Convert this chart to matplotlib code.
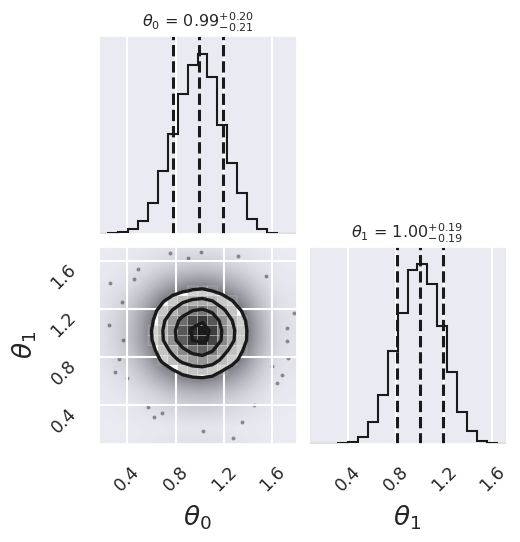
import numpy as np
import matplotlib
matplotlib.use("Agg")
import matplotlib.pyplot as plt
import seaborn as sns
from matplotlib.colors import LinearSegmentedColormap, PowerNorm

# ---------------- data ----------------
param_labels = [r"$\theta_0$", r"$\theta_1$"]
theta0_range = (0.16, 1.80)
theta1_range = (0.073, 1.72)
n_bins = 20
theta0_counts = [1, 6, 15, 45, 114, 276, 570, 906, 1266, 1530,
                 1626, 1416, 981, 642, 366, 135, 45, 6, 2, 1]
theta1_counts = [1, 0, 1, 9, 21, 60, 201, 444, 840, 1188,
                 1578, 1626, 1452, 1065, 654, 291, 114, 30, 9, 1]
theta0_quantiles = [0.78, 0.99, 1.19]
theta1_quantiles = [0.81, 1.00, 1.19]
theta0_title = r"$\theta_0$ = $0.99_{-0.21}^{+0.20}$"
theta1_title = r"$\theta_1$ = $1.00_{-0.19}^{+0.19}$"
tick_values = [0.4, 0.8, 1.2, 1.6]
tick_labels = ["0.4", "0.8", "1.2", "1.6"]
sigma_levels = [0.118, 0.393, 0.675, 0.865]
outlier_theta0 = [0.257, 0.354, 0.243, 0.367, 0.326, 0.298, 0.491, 0.754, 1.010,
                  1.319, 1.782, 1.719, 1.719, 1.733, 1.678, 1.637, 1.347, 1.278,
                  1.029, 0.685, 0.574, 0.45, 0.40, 1.55, 1.60, 0.62, 1.45, 0.90]
outlier_theta1 = [1.414, 1.261, 1.066, 0.941, 0.780, 0.677, 1.531, 1.665, 1.678,
                  1.642, 1.164, 1.039, 0.935, 0.788, 0.649, 0.580, 0.259, 0.121,
                  0.184, 0.329, 0.384, 1.45, 0.62, 1.47, 0.72, 0.30, 0.40, 1.62]

# ---------------- style ----------------
sns.set_theme(style="darkgrid")
plt.rcParams["font.family"] = ["DejaVu Sans"]
plt.rcParams["grid.linewidth"] = 1.5
plt.rcParams["text.color"] = ".15"
plt.rcParams["xtick.color"] = ".15"
plt.rcParams["ytick.color"] = ".15"
plt.rcParams["axes.labelcolor"] = ".15"

W, H_PX = 520, 542
fig = plt.figure(figsize=(W / 100, H_PX / 100), dpi=100)


def rect(l, t, r, b):
    return [l / W, 1 - b / H_PX, (r - l) / W, (b - t) / H_PX]


ax00 = fig.add_axes(rect(98.5, 36, 296.5, 234))
ax10 = fig.add_axes(rect(98.5, 246.5, 296.5, 444))
ax11 = fig.add_axes(rect(308.5, 246.5, 506.5, 444))

edges0 = np.linspace(theta0_range[0], theta0_range[1], n_bins + 1)
edges1 = np.linspace(theta1_range[0], theta1_range[1], n_bins + 1)
c0 = np.array(theta0_counts, float)
c1 = np.array(theta1_counts, float)
cent0 = 0.5 * (edges0[1:] + edges0[:-1])
cent1 = 0.5 * (edges1[1:] + edges1[:-1])

TICK_FS = 12.5
TITLE_FS = 11.5
LABEL_FS = 19
TICK_PAD = 13.5


def hist_panel(ax, centers, edges, counts, rng, quants, title):
    ax.hist(centers, bins=edges, weights=counts, histtype="step", color="k", lw=1.5)
    for q in quants:
        ax.axvline(q, ls="--", color="k", lw=2.2)
    ax.set_xlim(rng)
    ax.set_ylim(0, 1.1 * max(counts))
    ax.set_yticks([])
    ax.set_xticks(tick_values)
    ax.set_title(title, fontsize=TITLE_FS, pad=6)


hist_panel(ax00, cent0, edges0, c0, theta0_range, theta0_quantiles, theta0_title)
ax00.set_xticklabels([])
hist_panel(ax11, cent1, edges1, c1, theta1_range, theta1_quantiles, theta1_title)
ax11.set_xticklabels(tick_labels, rotation=45, fontsize=TICK_FS)
ax11.set_xlabel(param_labels[1], fontsize=LABEL_FS)
ax11.xaxis.set_label_coords(0.5, -0.3)

# ---------------- 2D panel ----------------
ax = ax10
Hd = np.outer(c0, c1) / c0.sum()  # H[ix, iy]

# contour levels as in corner
Hflat = Hd.flatten()
inds = np.argsort(Hflat)[::-1]
Hflat = Hflat[inds]
sm = np.cumsum(Hflat)
sm /= sm[-1]
V = np.empty(len(sigma_levels))
for i, v0 in enumerate(sigma_levels):
    try:
        V[i] = Hflat[sm <= v0][-1]
    except IndexError:
        V[i] = Hflat[0]
V.sort()

X1 = cent0
Y1 = cent1
H2 = Hd.min() + np.zeros((Hd.shape[0] + 4, Hd.shape[1] + 4))
H2[2:-2, 2:-2] = Hd
H2[2:-2, 1] = Hd[:, 0]
H2[2:-2, -2] = Hd[:, -1]
H2[1, 2:-2] = Hd[0]
H2[-2, 2:-2] = Hd[-1]
H2[1, 1] = Hd[0, 0]
H2[1, -2] = Hd[0, -1]
H2[-2, 1] = Hd[-1, 0]
H2[-2, -2] = Hd[-1, -1]
X2 = np.concatenate([X1[0] + np.array([-2, -1]) * np.diff(X1[:2]), X1,
                     X1[-1] + np.array([1, 2]) * np.diff(X1[-2:])])
Y2 = np.concatenate([Y1[0] + np.array([-2, -1]) * np.diff(Y1[:2]), Y1,
                     Y1[-1] + np.array([1, 2]) * np.diff(Y1[-2:])])

# haze standing in for the cloud of samples
haze_cmap = LinearSegmentedColormap.from_list(
    "haze", [(0.25, 0.25, 0.28, 0.0), (0.25, 0.25, 0.28, 0.62)])
ax.imshow(Hd.T, origin="lower", extent=(edges0[0], edges0[-1], edges1[0], edges1[-1]),
          cmap=haze_cmap, norm=PowerNorm(gamma=0.45, vmin=0, vmax=V.min() * 0.9, clip=True),
          interpolation="bicubic", aspect="auto", zorder=-1)
ax.plot(outlier_theta0, outlier_theta1, "o", color="k", ms=2.8, alpha=0.45, mec="none", zorder=-1)

ax.contourf(X2, Y2, H2.T, [V.min(), Hd.max()], colors=["white"], antialiased=False)
density_cmap = LinearSegmentedColormap.from_list("density", ["k", (1, 1, 1, 0)])
dens = np.ma.masked_where(Hd.T < V.min(), Hd.max() - Hd.T)
ax.pcolor(edges0, edges1, dens, cmap=density_cmap, vmin=0, vmax=1.5 * Hd.max(),
          edgecolors=(1, 1, 1, 0.35), linewidth=0.4)
ax.contour(X2, Y2, H2.T, V, colors="k", linewidths=2.4)

ax.set_xlim(theta0_range)
ax.set_ylim(theta1_range)
ax.set_xticks(tick_values)
ax.set_yticks(tick_values)
ax.set_xticklabels(tick_labels, rotation=45, fontsize=TICK_FS)
ax.set_yticklabels(tick_labels, rotation=45, fontsize=TICK_FS, va="top")
ax.set_xlabel(param_labels[0], fontsize=LABEL_FS)
ax.set_ylabel(param_labels[1], fontsize=LABEL_FS)
ax.xaxis.set_label_coords(0.5, -0.3)
ax.yaxis.set_label_coords(-0.3, 0.5)

for a in (ax00, ax10, ax11):
    a.tick_params(length=0, pad=TICK_PAD)

fig.savefig("out.png", dpi=100)
